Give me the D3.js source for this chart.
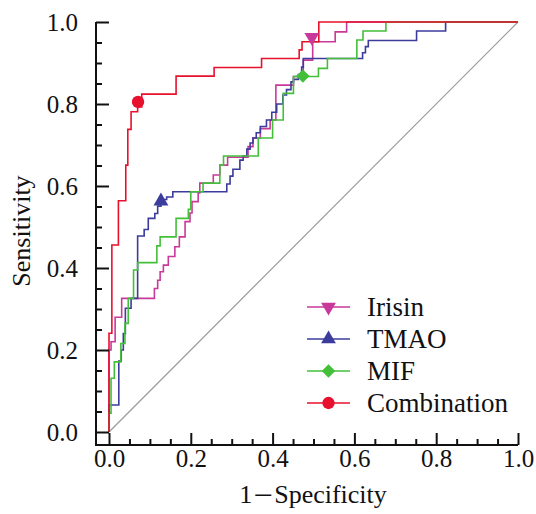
<!DOCTYPE html>
<html>
<head>
<meta charset="utf-8">
<script src="https://cdn.jsdelivr.net/npm/d3@7"></script>
<style>
  html, body { margin: 0; padding: 0; background: #fff; }
  svg { display: block; }
</style>
</head>
<body>
<svg id="chart" width="536" height="514"></svg>
<script>
// ---------- data ----------
const seriesNames = ["Irisin", "TMAO", "MIF", "Combination"];

const irisinPts = [
  [0,0],[0,0.2],[0.005,0.2],[0.005,0.22],[0.015,0.22],[0.015,0.28],[0.031,0.28],[0.031,0.326],
  [0.111,0.326],[0.111,0.35],[0.119,0.35],[0.119,0.37],[0.125,0.37],[0.125,0.391],[0.133,0.391],
  [0.133,0.407],[0.145,0.407],[0.145,0.428],[0.161,0.428],[0.161,0.452],[0.172,0.452],[0.172,0.476],
  [0.186,0.476],[0.186,0.513],[0.198,0.513],[0.198,0.534],[0.203,0.534],[0.203,0.562],[0.218,0.562],
  [0.218,0.583],[0.222,0.583],[0.222,0.607],[0.255,0.607],[0.255,0.627],[0.271,0.627],[0.271,0.651],
  [0.29,0.651],[0.29,0.67],[0.34,0.67],[0.34,0.696],[0.352,0.696],[0.352,0.717],[0.37,0.717],
  [0.37,0.74],[0.394,0.74],[0.394,0.761],[0.408,0.761],[0.408,0.846],[0.451,0.846],[0.451,0.867],
  [0.475,0.867],[0.475,0.907],[0.498,0.907],[0.498,0.952],[0.553,0.952],[0.553,0.976],[0.581,0.976],
  [0.581,1],[1,1]
];

const tmaoPts = [
  [0,0],[0,0.066],[0.024,0.066],[0.024,0.173],[0.03,0.173],[0.03,0.2],[0.035,0.2],[0.035,0.24],
  [0.04,0.24],[0.04,0.302],[0.054,0.302],[0.054,0.326],[0.07,0.326],[0.07,0.478],[0.086,0.478],
  [0.086,0.494],[0.096,0.494],[0.096,0.521],[0.112,0.521],[0.112,0.533],[0.119,0.533],[0.119,0.551],
  [0.127,0.551],[0.127,0.567],[0.141,0.567],[0.141,0.573],[0.156,0.573],[0.156,0.586],[0.288,0.586],
  [0.288,0.605],[0.296,0.605],[0.296,0.624],[0.303,0.624],[0.303,0.641],[0.32,0.641],[0.32,0.663],
  [0.328,0.663],[0.328,0.673],[0.337,0.673],[0.337,0.69],[0.345,0.69],[0.345,0.705],[0.352,0.705],
  [0.352,0.717],[0.36,0.717],[0.36,0.73],[0.37,0.73],[0.37,0.745],[0.385,0.745],[0.385,0.761],
  [0.398,0.761],[0.398,0.78],[0.41,0.78],[0.41,0.8],[0.425,0.8],[0.425,0.822],[0.434,0.822],
  [0.434,0.835],[0.445,0.835],[0.445,0.854],[0.451,0.854],[0.451,0.86],[0.463,0.86],[0.463,0.872],
  [0.471,0.872],[0.471,0.89],[0.475,0.89],[0.475,0.911],[0.62,0.911],[0.62,0.925],[0.627,0.925],
  [0.627,0.94],[0.634,0.94],[0.634,0.955],[0.752,0.955],[0.752,0.978],[0.823,0.978],[0.823,1],[1,1]
];

const mifPts = [
  [0,0],[0,0.046],[0.005,0.046],[0.005,0.131],[0.013,0.131],[0.013,0.171],[0.029,0.171],[0.029,0.216],
  [0.039,0.216],[0.039,0.265],[0.047,0.265],[0.047,0.326],[0.06,0.326],[0.06,0.395],[0.07,0.395],
  [0.07,0.413],[0.117,0.413],[0.117,0.454],[0.125,0.454],[0.125,0.476],[0.164,0.476],[0.164,0.521],
  [0.194,0.521],[0.194,0.543],[0.2,0.543],[0.2,0.586],[0.23,0.586],[0.23,0.607],[0.271,0.607],
  [0.271,0.651],[0.28,0.651],[0.28,0.673],[0.365,0.673],[0.365,0.717],[0.4,0.717],[0.4,0.761],
  [0.426,0.761],[0.426,0.826],[0.451,0.826],[0.451,0.867],[0.512,0.867],[0.512,0.887],[0.534,0.887],
  [0.534,0.911],[0.606,0.911],[0.606,0.956],[0.621,0.956],[0.621,0.978],[0.677,0.978],[0.677,1],[1,1]
];

const combPts = [
  [0,0],[0,0.241],[0.007,0.241],[0.007,0.456],[0.023,0.456],[0.023,0.564],[0.041,0.564],[0.041,0.651],
  [0.046,0.651],[0.046,0.738],[0.054,0.738],[0.054,0.781],[0.07,0.781],[0.07,0.793],[0.08,0.793],
  [0.08,0.824],[0.164,0.824],[0.164,0.868],[0.257,0.868],[0.257,0.889],[0.373,0.889],[0.373,0.911],
  [0.465,0.911],[0.465,0.932],[0.472,0.932],[0.472,0.952],[0.513,0.952],[0.513,1],[1,1]
];

// cut-off markers
const markerPts = [[0.496,0.963],[0.127,0.563],[0.474,0.868],[0.071,0.805]];

const diagonalPts = [[0,0],[1,1]];
const majorTicks = [0, 0.2, 0.4, 0.6, 0.8, 1.0];
const minorTicks = [0.05,0.1,0.15,0.25,0.3,0.35,0.45,0.5,0.55,0.65,0.7,0.75,0.85,0.9,0.95];
const xTitleParts = ["1", "\uFF0D", "Specificity"];
const yTitle = "Sensitivity";

// ---------- styles ----------
const SERIF = "'Liberation Serif', 'Times New Roman', Tinos, serif";
const colors = ["#c8399a", "#3c3c9c", "#44bf3a", "#e8112d"];
const allPts = [irisinPts, tmaoPts, mifPts, combPts];

const svg = d3.select("#chart");
const x = d3.scaleLinear().domain([0, 1]).range([109, 518]);
const y = d3.scaleLinear().domain([0, 1]).range([432, 22]);

const line = d3.line().x(d => x(d[0])).y(d => y(d[1]));

// diagonal reference
svg.append("path").datum(diagonalPts).attr("d", line)
  .attr("fill", "none").attr("stroke", "#9a9a9a").attr("stroke-width", 1.2);

// curves
allPts.forEach((pts, i) => {
  svg.append("path").datum(pts).attr("d", line)
    .attr("fill", "none").attr("stroke", colors[i]).attr("stroke-width", 1.6)
    .attr("stroke-linejoin", "miter");
});

// markers
const symTri = d3.symbol().type(d3.symbolTriangle).size(95);
const symCircle = d3.symbol().type(d3.symbolCircle).size(120);
const symSquare = d3.symbol().type(d3.symbolSquare).size(90);
function drawMarker(g, i, cx, cy) {
  let p;
  if (i === 0) p = g.append("path").attr("d", symTri()).attr("transform", `translate(${cx},${cy}) rotate(180)`);
  else if (i === 1) p = g.append("path").attr("d", symTri()).attr("transform", `translate(${cx},${cy})`);
  else if (i === 2) p = g.append("path").attr("d", symSquare()).attr("transform", `translate(${cx},${cy}) rotate(45)`);
  else p = g.append("path").attr("d", symCircle()).attr("transform", `translate(${cx},${cy})`);
  p.attr("fill", colors[i]);
}
const mg = svg.append("g");
markerPts.forEach((d, i) => drawMarker(mg, i, x(d[0]), y(d[1])));

// ---------- axes ----------
const axisX0 = 96, axisY0 = 445;
const fontTick = 25;

const yAxisG = svg.append("g").attr("transform", `translate(${axisX0},0)`);
yAxisG.call(d3.axisLeft(y).tickValues(majorTicks).tickSizeInner(-13).tickSizeOuter(0)
  .tickPadding(18).tickFormat(d3.format(".1f")));
yAxisG.call(g => g.select(".domain").remove());
const yMinorG = svg.append("g").attr("transform", `translate(${axisX0},0)`);
yMinorG.call(d3.axisLeft(y).tickValues(minorTicks).tickSizeInner(-6).tickSizeOuter(0).tickFormat(""));
yMinorG.call(g => g.select(".domain").remove());

const xAxisG = svg.append("g").attr("transform", `translate(0,${axisY0})`);
xAxisG.call(d3.axisBottom(x).tickValues(majorTicks).tickSizeInner(-12).tickSizeOuter(0)
  .tickPadding(4).tickFormat(d3.format(".1f")));
xAxisG.call(g => g.select(".domain").remove());
const xMinorG = svg.append("g").attr("transform", `translate(0,${axisY0})`);
xMinorG.call(d3.axisBottom(x).tickValues(minorTicks).tickSizeInner(-6).tickSizeOuter(0).tickFormat(""));
xMinorG.call(g => g.select(".domain").remove());

svg.selectAll(".tick line").attr("stroke", "#111").attr("stroke-width", 2);
svg.selectAll(".tick text").attr("font-size", fontTick)
  .style("font-family", SERIF).attr("fill", "#111");

// axis lines (offset frame)
svg.append("path")
  .attr("d", `M${axisX0},${y(1)}V${axisY0}H${x(1)}`)
  .attr("fill", "none").attr("stroke", "#111").attr("stroke-width", 2);

// titles
svg.append("text").attr("transform", "translate(30,231) rotate(-90)")
  .attr("text-anchor", "middle").attr("font-size", 26).attr("fill", "#111")
  .style("font-family", SERIF).text(yTitle);
const xt = svg.append("text").attr("x", 313).attr("y", 503)
  .attr("text-anchor", "middle").attr("font-size", 26).attr("fill", "#111")
  .style("font-family", SERIF);
xt.append("tspan").text(xTitleParts[0]);
xt.append("tspan").style("font-family", "'Noto Sans CJK SC', sans-serif").attr("font-size", 22)
  .text(xTitleParts[1]);
xt.append("tspan").text(xTitleParts[2]);

// ---------- legend ----------
const legY = [307, 339, 371, 403];
const lg = svg.append("g");
seriesNames.forEach((name, i) => {
  lg.append("line").attr("x1", 307).attr("x2", 350).attr("y1", legY[i]).attr("y2", legY[i])
    .attr("stroke", colors[i]).attr("stroke-width", 1.6);
  drawMarker(lg, i, 328.5, legY[i]);
  lg.append("text").attr("x", 367).attr("y", legY[i]).attr("dy", "0.34em")
    .attr("font-size", 27).attr("fill", "#111").style("font-family", SERIF).text(name);
});
</script>
</body>
</html>
